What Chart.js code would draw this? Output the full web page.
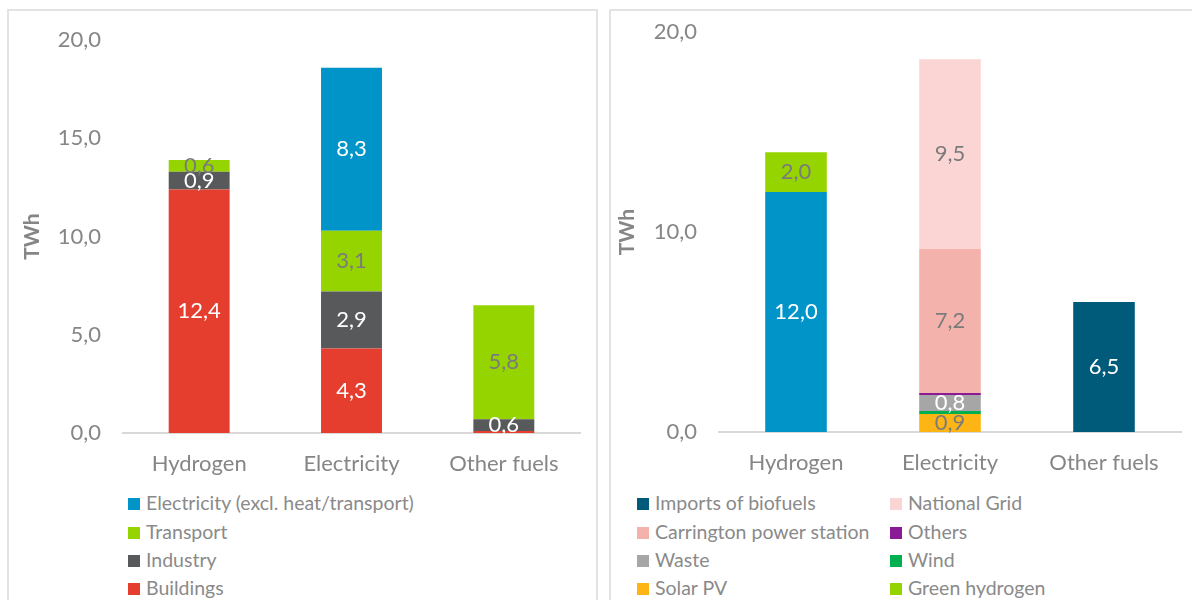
<!DOCTYPE html>
<html>
<head>
<meta charset="utf-8">
<script src="https://cdn.jsdelivr.net/npm/chart.js@4.4.1/dist/chart.umd.min.js"></script>
<style>
  body { margin: 0; width: 1192px; height: 600px; overflow: hidden; background: #fff; font-family: Lato, sans-serif; }
  .panel { position: absolute; top: 9px; height: 640px; border: 2px solid #e3e3e3; border-bottom: none; }
  #panelLeft { left: 7px; width: 587px; }
  #panelRight { left: 609px; width: 620px; }
  canvas { position: absolute; }
  #chartLeft { left: 9px; top: 5px; }
  #chartRight { left: 611px; top: -3px; }
  .item { position: absolute; white-space: nowrap; font-size: 19.5px; line-height: 22px; color: #8a8a8a; }
  .sw { display: inline-block; width: 12px; height: 12px; margin-right: 6px; vertical-align: 0px; }
</style>
</head>
<body>
<div class="panel" id="panelLeft"></div>
<div class="panel" id="panelRight"></div>
<canvas id="chartLeft" width="588" height="485"></canvas>
<canvas id="chartRight" width="581" height="492"></canvas>
<div id="legendLeft"></div>
<div id="legendRight"></div>
<script>
// categories (same for both charts)
const categories = ['Hydrogen', 'Electricity', 'Other fuels'];

// left chart: demand by sector, TWh
const buildings      = [12.4, 4.3, 0.1];
const industry       = [0.9, 2.9, 0.6];
const transport      = [0.6, 3.1, 5.8];
const electricityUse = [null, 8.3, null];

// right chart: supply by source, TWh
const hydrogenSupply = [12.0, null, null];
const greenHydrogen  = [2.0, null, null];
const solarPV        = [null, 0.9, null];
const wind           = [null, 0.15, null];
const waste          = [null, 0.8, null];
const others         = [null, 0.1, null];
const carrington     = [null, 7.2, null];
const nationalGrid   = [null, 9.5, null];
const biofuelImports = [null, null, 6.5];

const leftTicks = [0, 5, 10, 15, 20];
const rightTicks = [0, 10, 20];

const GREY = '#868686';
const LABEL_GREY = '#7b7b7b';
const FONT = 'Lato';

function fmt(v) {
    return v.toFixed(1).replace('.', ',');
}

// value labels in the middle of each segment
const valueLabels = {
    id: 'valueLabels',
    afterDatasetsDraw(chart) {
        const ctx = chart.ctx;
        ctx.save();
        ctx.font = '22px ' + FONT;
        ctx.textAlign = 'center';
        ctx.textBaseline = 'middle';
        chart.data.datasets.forEach((ds, i) => {
            if (!ds.labelColor) return;
            chart.getDatasetMeta(i).data.forEach((bar, j) => {
                const v = ds.data[j];
                if (v == null || v < 0.3) return;
                const p = bar.getProps(['x', 'y', 'base'], true);
                ctx.fillStyle = ds.labelColor;
                ctx.fillText(fmt(v), p.x, (p.y + p.base) / 2);
            });
        });
        ctx.restore();
    }
};

function makeOptions(o) {
    return {
        responsive: false,
        animation: false,
        layout: { padding: { top: 0, right: o.padRight, left: 0, bottom: 0 } },
        plugins: { legend: { display: false }, tooltip: { enabled: false } },
        scales: {
            x: {
                stacked: true,
                grid: { display: false, drawTicks: false },
                border: { color: '#d9d9d9', width: 2 },
                ticks: { color: GREY, font: { family: FONT, size: 22 }, padding: 18 },
                afterFit: s => { s.height = 57; }
            },
            y: {
                stacked: true,
                min: 0,
                max: 20,
                afterBuildTicks: s => { s.ticks = o.ticks.map(v => ({ value: v })); },
                grid: { display: false, drawTicks: false },
                border: { display: false },
                ticks: { color: GREY, font: { family: FONT, size: 22 }, padding: 22, callback: v => fmt(v) },
                title: {
                    display: true, text: 'TWh', color: GREY,
                    font: { family: FONT, size: 21, weight: 'bold' },
                    padding: { top: o.titlePad, bottom: 0 }
                },
                afterFit: s => { s.width = o.axisWidth; }
            }
        }
    };
}

function ds(label, data, color, labelColor) {
    return {
        label, data, backgroundColor: color, labelColor,
        barPercentage: 1, categoryPercentage: 0.4, borderWidth: 0
    };
}

// stacking order: bottom first
const leftSets = [
    ds('Buildings', buildings, '#e53d2e', '#ffffff'),
    ds('Industry', industry, '#58595b', '#ffffff'),
    ds('Transport', transport, '#96d400', LABEL_GREY),
    ds('Electricity (excl. heat/transport)', electricityUse, '#0094c9', '#ffffff')
];

const rightSets = [
    ds('Hydrogen imports', hydrogenSupply, '#0094c9', '#ffffff'),
    ds('Green hydrogen', greenHydrogen, '#96d400', LABEL_GREY),
    ds('Solar PV', solarPV, '#fdb515', LABEL_GREY),
    ds('Wind', wind, '#00b050', null),
    ds('Waste', waste, '#a6a6a6', '#ffffff'),
    ds('Others', others, '#8b1a96', null),
    ds('Carrington power station', carrington, '#f4b2ad', LABEL_GREY),
    ds('National Grid', nationalGrid, '#fad5d3', LABEL_GREY),
    ds('Imports of biofuels', biofuelImports, '#005a7a', '#ffffff')
];

new Chart(document.getElementById('chartLeft'), {
    type: 'bar',
    data: { labels: categories, datasets: leftSets },
    options: makeOptions({ padRight: 17, axisWidth: 114, titlePad: 11, ticks: leftTicks }),
    plugins: [valueLabels]
});

new Chart(document.getElementById('chartRight'), {
    type: 'bar',
    data: { labels: categories, datasets: rightSets },
    options: makeOptions({ padRight: 11, axisWidth: 108, titlePad: 4, ticks: rightTicks }),
    plugins: [valueLabels]
});

// legends (html, laid out like the original: rows filled left to right)
function buildLegend(id, items, cols, rowY) {
    const box = document.getElementById(id);
    items.forEach((it, k) => {
        const el = document.createElement('div');
        el.className = 'item';
        el.style.left = cols[k % cols.length] + 'px';
        el.style.top = (rowY[Math.floor(k / cols.length)] - 11) + 'px';
        el.innerHTML = '<span class="sw" style="background:' + it.backgroundColor + '"></span>' + it.label;
        box.appendChild(el);
    });
}

const rows = [503, 532, 560, 588];
buildLegend('legendLeft', leftSets.slice().reverse(), [128], rows);
const byName = n => rightSets.find(d => d.label === n);
buildLegend('legendRight', [
    'Imports of biofuels', 'National Grid',
    'Carrington power station', 'Others',
    'Waste', 'Wind',
    'Solar PV', 'Green hydrogen'
].map(byName), [637, 890], rows);
</script>
</body>
</html>
